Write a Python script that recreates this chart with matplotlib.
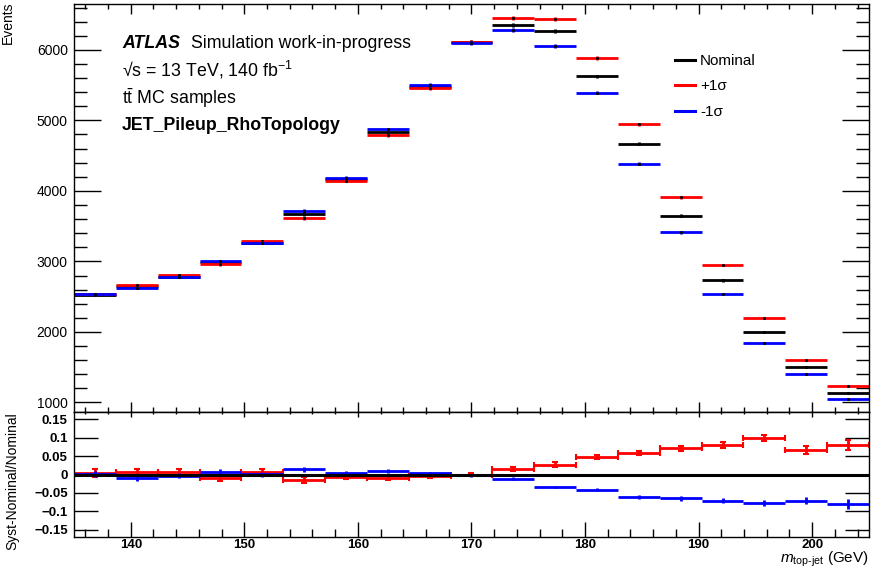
import numpy as np
import matplotlib
matplotlib.use("Agg")
import matplotlib.pyplot as plt
from matplotlib.lines import Line2D
from matplotlib.ticker import MultipleLocator, FixedLocator

plt.rcParams['font.family'] = ['Liberation Sans', 'DejaVu Sans']
plt.rcParams['mathtext.fontset'] = 'custom'
plt.rcParams['mathtext.rm'] = 'Liberation Sans'
plt.rcParams['mathtext.it'] = 'Liberation Sans:italic'
plt.rcParams['mathtext.bf'] = 'Liberation Sans:bold'

# binning of m_top-jet (GeV)
edges = np.linspace(135, 205, 20)

# events per bin
nominal = [2528, 2645, 2785, 2985, 3265, 3666, 4168, 4830, 5480, 6110,
           6355, 6265, 5623, 4670, 3650, 2730, 2000, 1504, 1138]
up = [2538, 2661, 2804, 2958, 3288, 3611, 4143, 4787, 5458, 6108,
      6453, 6434, 5887, 4946, 3909, 2948, 2198, 1603, 1229]
down = [2533, 2621, 2777, 3006, 3268, 3717, 4185, 4873, 5502, 6100,
        6285, 6058, 5392, 4385, 3413, 2536, 1846, 1397, 1046]
stat_err = [18, 18, 19, 19, 20, 21, 22, 23, 24, 25,
            25, 25, 24, 22, 20, 18, 16, 14, 12]

# uncertainty on the ratio
up_ratio_err = [0.010, 0.009, 0.009, 0.008, 0.008, 0.007, 0.006, 0.006, 0.005, 0.005,
                0.006, 0.006, 0.006, 0.006, 0.007, 0.008, 0.009, 0.011, 0.013]
down_ratio_err = [0.008, 0.008, 0.007, 0.007, 0.007, 0.006, 0.005, 0.005, 0.004, 0.004,
                  0.003, 0.003, 0.004, 0.005, 0.006, 0.007, 0.008, 0.010, 0.013]

labels = ["Nominal", "+1\u03c3", "-1\u03c3"]
colors = ["black", "red", "blue"]

centers = 0.5 * (edges[1:] + edges[:-1])
half = 0.5 * (edges[1:] - edges[:-1])
nom = np.array(nominal, dtype=float)
r_up = np.array(up) / nom - 1
r_down = np.array(down) / nom - 1

W, H = 871, 568
fig = plt.figure(figsize=(W / 100, H / 100), dpi=100)
ax = fig.add_axes([74/W, 1 - 412/H, 795/W, 408/H])
rax = fig.add_axes([74/W, 1 - 537/H, 795/W, 125/H])

# main panel
for vals, col in zip([nominal, up, down], colors):
    ax.errorbar(centers, vals, xerr=half, yerr=stat_err, fmt='none',
                ecolor=col, elinewidth=2.0, capsize=0)
    ax.plot(centers, vals, ls='none', marker='o', ms=1.2, color='black')

ax.set_xlim(135, 205)
ax.set_ylim(865, 6650)
ax.xaxis.set_major_locator(MultipleLocator(10))
ax.xaxis.set_minor_locator(MultipleLocator(2))
ax.yaxis.set_major_locator(MultipleLocator(1000))
ax.yaxis.set_minor_locator(MultipleLocator(200))
ax.tick_params(which='both', direction='in', top=True, right=True, width=1.0)
ax.tick_params(axis='y', which='major', length=19.5, labelsize=10, pad=4.5)
ax.tick_params(axis='y', which='minor', length=9.5)
ax.tick_params(axis='x', which='major', length=7.5, labelbottom=False)
ax.tick_params(axis='x', which='minor', length=3.6)
fig.text(8/W, 1 - 1/H, "Events", rotation=90, ha='center', va='top', fontsize=10)

# labels, placed in axes fraction from pixel offsets
tx = (122 - 74) / 795
ax.text(tx, 1 - 39/408, "ATLAS", fontsize=12.8, fontweight='bold', style='italic',
        transform=ax.transAxes, va='center')
ax.text(tx + 69/795, 1 - 39/408, "Simulation work-in-progress", fontsize=12.8,
        transform=ax.transAxes, va='center')
ax.text(tx, 1 - 66/408, "\u221as = 13 TeV, 140 fb$^{-1}$", fontsize=12.8,
        transform=ax.transAxes, va='center')
ax.text(tx, 1 - 94/408, r"t$\bar{\mathrm{t}}$ MC samples", fontsize=12.8,
        transform=ax.transAxes, va='center')
ax.text(tx, 1 - 121/408, "JET_Pileup_RhoTopology", fontsize=12.8, fontweight='bold',
        transform=ax.transAxes, va='center')

handles = [Line2D([], [], color=c, lw=2.2) for c in colors]
ax.legend(handles, labels, loc='upper left', bbox_to_anchor=((675 - 74)/795, 1 - 50/408),
          frameon=False, fontsize=11, handlelength=1.3, handletextpad=0.35,
          labelspacing=0.75, borderaxespad=0, borderpad=0)

# ratio panel
rax.errorbar(centers, r_up, xerr=half, yerr=up_ratio_err, fmt='none',
             ecolor='red', elinewidth=2.0, capsize=2.2, capthick=1.5)
rax.errorbar(centers, r_down, xerr=half, yerr=down_ratio_err, fmt='none',
             ecolor='blue', elinewidth=2.0, capsize=0)
rax.axhline(0, color='black', lw=2.2)

rax.set_xlim(135, 205)
rax.set_ylim(-0.17, 0.17)
rax.xaxis.set_major_locator(MultipleLocator(10))
rax.xaxis.set_minor_locator(MultipleLocator(2))
rticks = [-0.15, -0.1, -0.05, 0, 0.05, 0.1, 0.15]
rax.yaxis.set_major_locator(FixedLocator(rticks))
rax.set_yticklabels(["\u22120.15", "\u22120.1", "\u22120.05", "0", "0.05", "0.1", "0.15"],
                    fontweight='bold')
rax.tick_params(which='both', direction='in', right=True, width=1.0)
rax.tick_params(axis='y', which='major', length=17, labelsize=9.5, pad=4.5)
rax.tick_params(axis='x', which='major', length=11, labelsize=9.5, pad=1.5)
rax.tick_params(axis='x', which='minor', length=5.5)
for lab in rax.get_xticklabels():
    lab.set_fontweight('bold')

top = rax.secondary_xaxis('top')
top.xaxis.set_major_locator(MultipleLocator(10))
top.xaxis.set_minor_locator(MultipleLocator(2))
top.tick_params(which='both', direction='in', labeltop=False, width=1.0)
top.tick_params(which='major', length=3.3)
top.tick_params(which='minor', length=1.6)

fig.text(12/W, 1 - 481/H, "Syst-Nominal/Nominal", rotation=90, ha='center',
         va='center', fontsize=10)
fig.text(869/W, 1 - 563/H,
         r"$m_{\mathrm{top}\text{-}\mathrm{jet}}$ (GeV)", ha='right', va='baseline', fontsize=11)

for a in (ax, rax):
    for s in a.spines.values():
        s.set_linewidth(1.0)

fig.savefig("out.png", dpi=100)
